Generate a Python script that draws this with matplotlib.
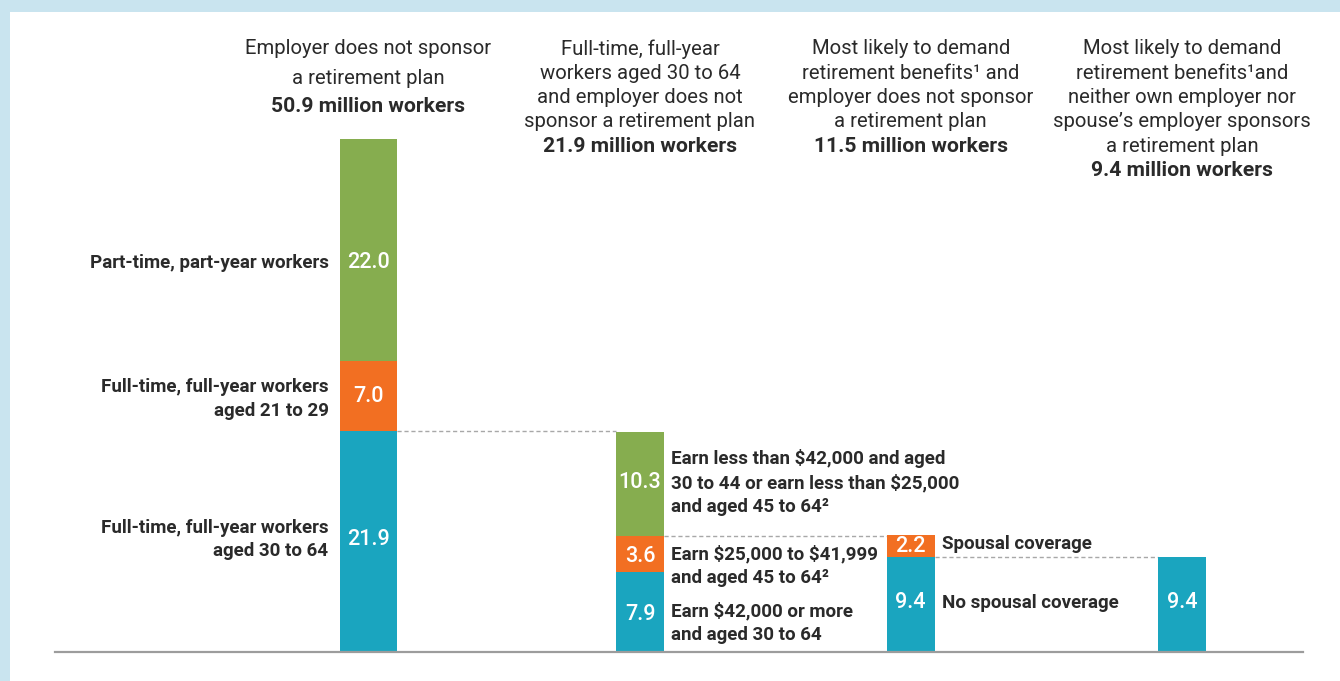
import matplotlib
matplotlib.use("Agg")
import matplotlib.pyplot as plt
from matplotlib.patches import Rectangle

plt.rcParams['font.family'] = ['Roboto', 'DejaVu Sans']

# ---------------- data ----------------
col_titles = [
    ["Employer does not sponsor", "a retirement plan"],
    ["Full-time, full-year", "workers aged 30 to 64", "and employer does not", "sponsor a retirement plan"],
    ["Most likely to demand", "retirement benefits\u00b9 and", "employer does not sponsor", "a retirement plan"],
    ["Most likely to demand", "retirement benefits\u00b9and", "neither own employer nor", "spouse\u2019s employer sponsors", "a retirement plan"],
]
col_totals = ["50.9 million workers", "21.9 million workers", "11.5 million workers", "9.4 million workers"]

# stacked segments bottom -> top for each bar
seg_values = [
    [21.9, 7.0, 22.0],
    [7.9, 3.6, 10.3],
    [9.4, 2.2],
    [9.4],
]
seg_colors = [
    ["teal", "orange", "green"],
    ["teal", "orange", "green"],
    ["teal", "orange"],
    ["teal"],
]
seg_labels = [
    ["Full-time, full-year workers\naged 30 to 64",
     "Full-time, full-year workers\naged 21 to 29",
     "Part-time, part-year workers"],
    ["Earn \\$42,000 or more\nand aged 30 to 64",
     "Earn \\$25,000 to \\$41,999\nand aged 45 to 64\u00b2",
     "Earn less than \\$42,000 and aged\n30 to 44 or earn less than \\$25,000\nand aged 45 to 64\u00b2"],
    ["No spousal coverage", "Spousal coverage"],
    [""],
]
value_fmt = "{:.1f}"

# ---------------- styling / layout ----------------
palette = {"teal": "#1aa5bf", "orange": "#f26f22", "green": "#86ad4f"}
text_color = "#2a2a2a"
W, H = 1340, 681
bar_left = [339.5, 616, 886.5, 1158]
bar_width = [57.5, 48, 48.5, 48]
px_per_unit = 10.08
base_px = 652
label_side = ["left", "right", "right", None]
# vertical nudges (pixels, downward) for value labels / side labels
value_nudge = [[-2, 1, 13], [2, 2, -2], [-2, 0], [-2]]
label_nudge = [[-2, 3, 13], [11, 12, -2], [-2, -2], [0]]

fig = plt.figure(figsize=(W / 100, H / 100), dpi=100)
fig.patch.set_facecolor("#c9e4ef")
fig.patches.append(Rectangle((10 / W, 0), 1, 1 - 12 / H, transform=fig.transFigure,
                             facecolor="white", edgecolor="none", zorder=-5))

ax = fig.add_axes([0, 0, 1, 1])
ax.set_facecolor("none")
ax.set_xlim(0, W)
ax.set_ylim(-(H - base_px) / px_per_unit, base_px / px_per_unit)
ax.axis("off")


def fy(ypx):
    return 1 - ypx / H


# bars
for i, vals in enumerate(seg_values):
    bottom = 0.0
    cx = bar_left[i] + bar_width[i] / 2
    for j, v in enumerate(vals):
        ax.bar(bar_left[i], v, width=bar_width[i], bottom=bottom, align="edge",
               color=palette[seg_colors[i][j]], edgecolor="none", zorder=3)
        ymid = bottom + v / 2
        ax.text(cx, ymid - value_nudge[i][j] / px_per_unit, value_fmt.format(v),
                color="white", fontsize=15.5, fontweight=500,
                ha="center", va="center", zorder=4)
        lab = seg_labels[i][j]
        ly = ymid - label_nudge[i][j] / px_per_unit
        if lab:
            if label_side[i] == "left":
                ax.text(bar_left[i] - 11, ly, lab, ha="right", va="center",
                        fontsize=13.5, fontweight="bold", color=text_color,
                        linespacing=1.4)
            else:
                ax.text(bar_left[i] + bar_width[i] + 7, ly, lab, ha="left", va="center",
                        fontsize=13.5, fontweight="bold", color=text_color,
                        linespacing=1.4)
        bottom += v

# connector dashed lines
conn_levels = [seg_values[0][0], seg_values[1][0] + seg_values[1][1], seg_values[2][0]]
for i, lvl in enumerate(conn_levels):
    ax.plot([bar_left[i] + bar_width[i], bar_left[i + 1]], [lvl, lvl],
            color="#a8a8a8", lw=1.0, ls=(0, (3, 2)), zorder=2)

# baseline
ax.plot([55, 1303], [0, 0], color="#9c9c9c", lw=1.6, zorder=5)

# headers
for i, lines in enumerate(col_titles):
    cx = bar_left[i] + bar_width[i] / 2
    step = 29 if i == 0 else 24.3
    fs = 14.6
    y0 = 49
    for k, line in enumerate(lines):
        fig.text(cx / W, fy(y0 + k * step), line, ha="center", va="center",
                 fontsize=fs, color=text_color)
    fig.text(cx / W, fy(y0 + len(lines) * step), col_totals[i], ha="center",
             va="center", fontsize=fs + 0.6, fontweight="bold", color=text_color)

fig.savefig("out.png", dpi=100, facecolor=fig.get_facecolor())
